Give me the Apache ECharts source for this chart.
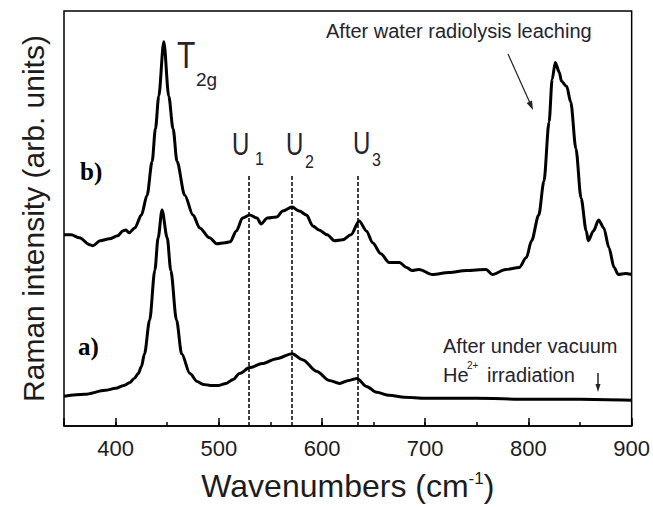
<!DOCTYPE html>
<html><head><meta charset="utf-8">
<script src="https://cdn.jsdelivr.net/npm/echarts@6/dist/echarts.min.js"></script>
<style>html,body{margin:0;padding:0;background:#fff}#c{width:653px;height:507px}</style>
</head><body><div id="c"></div>
<script>
// ---- data ----
const wavenumbersB = [350,357,365,375,378,385,394,402,407,410,413,418.6,425,430.5,435.4,438.6,441.8,446.7,451.5,455.7,459.5,467,475,481.5,491,498,506,511,517,523,530,537,541,547,556,562,571,578,585,591,597,605,612,620,628,636,643,649,657,665,675,682,687,694,707,723,740,759,765,778,791,798,803,810,815,820,823,826,830,832,837,841,846,851,856,858,863,868,873,878,883,887,894,900];
const intensityB = [193,193,190,183,182,187,189,192,197,198,195,200,213,233,267,300,333,388,333,300,267,233,213,200,190,184,185,186,197,210,213,210,204,210,211,217,221,217,213,202,198,193,187,188,193,207,197,185,174,165,165,160,157,158,153,155,157,158,153,158,160,170,187,213,247,307,350,367,357,348,343,327,280,230,197,187,197,208,200,180,160,153,154,153];
const wavenumbersA = [350,370,390,400,408,414,418,422,425,428,433,438,441.2,445,450,453.5,459,464,472,479,485,492,500,507,514,520,530,542,556,571,581,595,607,617,626,634,643,653,665,680,700,750,800,850,900];
const intensityA = [30,32,36,38,41,44,48,53,60,73,107,157,190,218,190,157,107,73,53,45,42,41,41,43,47,53,59,63,68,73,67,55,46,43,46,48,40,34,31,29,28,28,27,27,26];
const peakPositions = [529, 571, 635];   // U1, U2, U3 dotted guides
const peakLineTop = 254;
const xTickLabels = [400, 500, 600, 700, 800, 900];

const FONT = 'Liberation Sans, Arial, Helvetica, sans-serif';
const TXT = '#24232e';

function txt(text, x, y, size, extra) {
  extra = extra || {};
  return {
    type: 'text', x: x, y: y, z: 100, silent: true,
    scaleX: extra.sx || 1, scaleY: extra.sy || 1,
    style: {
      text: text, fill: extra.fill || TXT, fontSize: size,
      fontFamily: extra.family || FONT, fontWeight: extra.weight || 'normal',
      align: 'left', verticalAlign: 'middle'
    }
  };
}

const chart = echarts.init(document.getElementById('c'), null, {renderer: 'svg'});
chart.setOption({
  animation: false,
  backgroundColor: '#fff',
  grid: {left: 64, right: 20, top: 11, bottom: 77, show: true, borderColor: '#000', borderWidth: 1.5},
  xAxis: [{
    type: 'value', min: 350, max: 900, splitNumber: 5,
    axisLine: {show: true, lineStyle: {color: '#000', width: 1.5}},
    axisTick: {show: true, inside: true, length: 8, lineStyle: {color: '#000', width: 1.5}},
    axisLabel: {
      show: true, margin: 11, fontSize: 22, fontFamily: FONT, color: '#1c1c1c',
      formatter: function (v) { return xTickLabels.indexOf(v) >= 0 ? String(v) : ''; }
    },
    splitLine: {show: false},
    name: '{a|Wavenumbers (cm}{s|-1}{a|)}', nameLocation: 'middle', nameGap: 44,
    nameTextStyle: {rich: {
      a: {fontSize: 32, fontFamily: FONT, color: '#1c1c1c'},
      s: {fontSize: 17, fontFamily: FONT, color: '#1c1c1c', verticalAlign: 'top'}
    }}
  }, {
    type: 'value', min: 350, max: 900, interval: 50, position: 'bottom',
    axisLine: {show: false},
    axisTick: {show: true, inside: true, length: 4, lineStyle: {color: '#000', width: 1.5}},
    axisLabel: {show: false}, splitLine: {show: false}
  }],
  yAxis: {
    type: 'value', min: 0, max: 419,
    axisLine: {show: false}, axisTick: {show: false}, axisLabel: {show: false}, splitLine: {show: false},
    name: 'Raman intensity (arb. units)', nameLocation: 'middle', nameGap: 16, nameRotate: 90,
    nameTextStyle: {fontSize: 30, fontFamily: FONT, color: '#1c1c1c'}
  },
  series: [{
    type: 'line', name: 'b', xAxisIndex: 0,
    data: wavenumbersB.map((x, i) => [x, intensityB[i]]),
    showSymbol: false, symbol: 'none', smooth: 0.3, smoothMonotone: 'x',
    lineStyle: {color: '#000', width: 3}
  }, {
    type: 'line', name: 'a', xAxisIndex: 0,
    data: wavenumbersA.map((x, i) => [x, intensityA[i]]),
    showSymbol: false, symbol: 'none', smooth: 0.3, smoothMonotone: 'x',
    lineStyle: {color: '#000', width: 3},
    markLine: {
      silent: true, symbol: ['none', 'none'], label: {show: false},
      lineStyle: {color: '#000', width: 1.5, type: [4, 2]},
      data: peakPositions.map(p => [{coord: [p, 0]}, {coord: [p, peakLineTop]}])
    }
  }],
  graphic: [
    txt('T', 177, 55.5, 30, {sy: 1.2}),
    txt('2g', 196, 79, 19),
    txt('U', 232, 144.5, 24, {sy: 1.3}), txt('1', 255, 158.5, 16, {sy: 1.15}),
    txt('U', 286, 144, 24, {sy: 1.3}), txt('2', 305, 161.5, 16, {sy: 1.15}),
    txt('U', 353, 143.5, 24, {sy: 1.3}), txt('3', 372, 160, 16, {sy: 1.15}),
    txt('b)', 80, 171, 25, {family: 'Liberation Serif, Times New Roman, serif', weight: 'bold', fill: '#000'}),
    txt('a)', 78, 346, 25, {family: 'Liberation Serif, Times New Roman, serif', weight: 'bold', fill: '#000'}),
    txt('After water radiolysis leaching', 326, 31, 20),
    txt('After under vacuum', 443, 346, 20),
    txt('He', 443, 375, 20), txt('2+', 467, 365, 10), txt('irradiation', 487, 375, 20),
    {type: 'line', silent: true, z: 100, shape: {x1: 508, y1: 54, x2: 530, y2: 103}, style: {stroke: '#222', lineWidth: 1.2}},
    {type: 'polygon', silent: true, z: 100, shape: {points: [[533, 110], [526.6, 103], [532, 100.6]]}, style: {fill: '#222'}},
    {type: 'line', silent: true, z: 100, shape: {x1: 598, y1: 373, x2: 598, y2: 386}, style: {stroke: '#222', lineWidth: 1.5}},
    {type: 'polygon', silent: true, z: 100, shape: {points: [[598, 392], [595.5, 384], [600.5, 384]]}, style: {fill: '#222'}}
  ]
});
</script>
</body></html>
